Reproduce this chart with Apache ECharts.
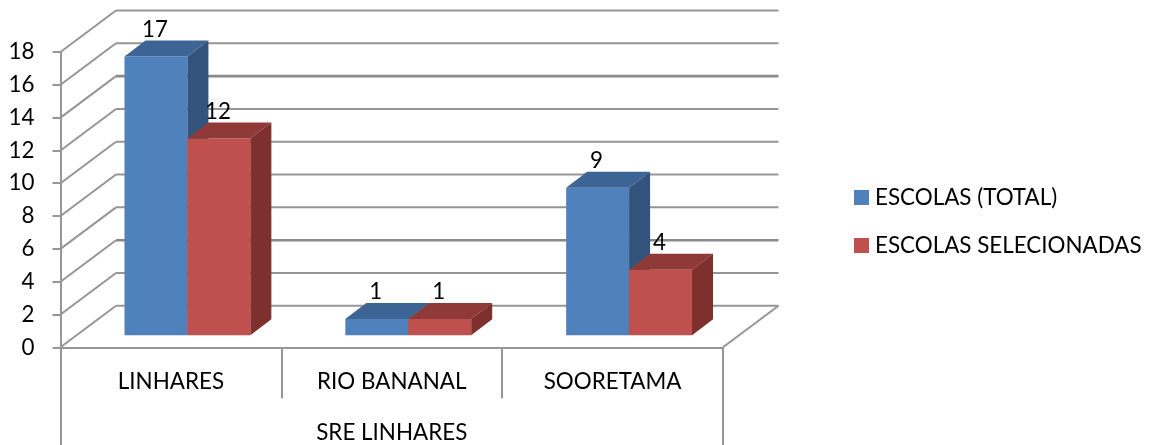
<!DOCTYPE html>
<html><head><meta charset="utf-8">
<style>html,body{margin:0;padding:0;background:#fff}#c{width:1151px;height:445px}</style>
<script src="https://cdn.jsdelivr.net/npm/echarts@6/dist/echarts.min.js"></script>
</head><body><div id="c"></div>
<script>
const categories = ['LINHARES', 'RIO BANANAL', 'SOORETAMA'];
const groupLabels = ['SRE LINHARES'];
const seriesNames = ['ESCOLAS (TOTAL)', 'ESCOLAS SELECIONADAS'];
const totalSchools = [17, 1, 9];
const selectedSchools = [12, 1, 4];
const yTicks = [0, 2, 4, 6, 8, 10, 12, 14, 16, 18];

const FONT = 'Lato';
const FS = 22.4;
const LINE = '#969696';
const wallDX = 55.5, wallDY = 41.5;
const baseDX = 16.5, baseDY = 12;
const depthDX = 21, depthDY = 16;
const barFrac = 0.285;
const heavy = [4, 14];

const chart = echarts.init(document.getElementById('c'), null, {renderer: 'canvas'});

function wallItem(params, api) {
  const v = api.value(1);
  const y = api.coord([0, v])[1];
  const cs = params.coordSys;
  const l = cs.x, r = cs.x + cs.width;
  const st = {stroke: LINE, lineWidth: 2, fill: null};
  const stBack = {stroke: heavy.includes(v) ? '#8a8a8a' : LINE, lineWidth: heavy.includes(v) ? 2.6 : 2, fill: null};
  const kids = [
    {type: 'line', shape: {x1: l, y1: y, x2: l + wallDX, y2: y - wallDY}, style: st},
    {type: 'line', shape: {x1: l + wallDX, y1: y - wallDY, x2: r + wallDX, y2: y - wallDY}, style: stBack}
  ];
  if (v === 0) kids.push({type: 'line', shape: {x1: r, y1: y, x2: r + wallDX, y2: y - wallDY}, style: st});
  return {type: 'group', children: kids};
}

function barItem(which, cFront, cTop, cSide) {
  return function (params, api) {
    const cat = api.value(0), val = api.value(1);
    const c = api.coord([cat, 0]);
    const top = api.coord([cat, val]);
    const w = api.size([1, 0])[0] * barFrac;
    const x0 = c[0] + baseDX + (which === 0 ? -w : 0);
    const x1 = x0 + w;
    const yb = c[1] - baseDY, yt = top[1] - baseDY;
    const poly = (pts, fill) => ({type: 'polygon', shape: {points: pts}, style: {fill: fill, stroke: null}});
    return {type: 'group', children: [
      poly([[x0, yb], [x1, yb], [x1, yt], [x0, yt]], cFront),
      poly([[x0, yt], [x1, yt], [x1 + depthDX, yt - depthDY], [x0 + depthDX, yt - depthDY]], cTop),
      poly([[x1, yb], [x1 + depthDX, yb - depthDY], [x1 + depthDX, yt - depthDY], [x1, yt]], cSide),
      {type: 'text', z2: 100, style: {x: (x0 + x1) / 2 - 1, y: yt - 27, text: String(val), font: FS + 'px ' + FONT, fill: '#000', align: 'center', verticalAlign: 'middle'}}
    ]};
  };
}

chart.setOption({
  animation: false,
  backgroundColor: '#fff',
  grid: {left: 60.5, top: 52, width: 662.5, height: 295.3, containLabel: false},
  legend: {
    orient: 'vertical', left: 849, top: 180.5, itemWidth: 15, itemHeight: 15, itemGap: 24, icon: 'rect',
    data: seriesNames,
    selectedMode: false,
    textStyle: {fontFamily: FONT, fontSize: FS, lineHeight: 24, color: '#000', padding: [0, 0, 0, 1]}
  },
  xAxis: [
    {type: 'category', data: categories, position: 'bottom',
     axisLine: {show: true, lineStyle: {color: LINE, width: 2}},
     axisTick: {show: true, length: 51, lineStyle: {color: LINE, width: 2}},
     axisLabel: {margin: 23, fontFamily: FONT, fontSize: FS, color: '#000'}},
    {type: 'category', data: groupLabels, position: 'bottom',
     axisLine: {show: false},
     axisTick: {show: true, length: 100, lineStyle: {color: LINE, width: 2}},
     axisLabel: {margin: 74, fontFamily: FONT, fontSize: FS, color: '#000'}}
  ],
  yAxis: {type: 'value', min: 0, max: 18, interval: 2,
    axisLine: {show: true, lineStyle: {color: LINE, width: 2}},
    axisTick: {show: true, length: 8, lineStyle: {color: LINE, width: 2}},
    axisLabel: {margin: 26, fontFamily: FONT, fontSize: FS, color: '#000'},
    splitLine: {show: false}},
  series: [
    {type: 'custom', name: 'walls', silent: true, clip: false, z: 1, renderItem: wallItem,
     data: yTicks.map(v => [0, v])},
    {type: 'custom', name: seriesNames[0], clip: false, z: 2, itemStyle: {color: '#4f81bd'},
     renderItem: barItem(0, '#4f81bd', '#3c6494', '#32547c'),
     encode: {x: 0, y: 1}, data: totalSchools.map((v, i) => [i, v])},
    {type: 'custom', name: seriesNames[1], clip: false, z: 3, itemStyle: {color: '#c0504d'},
     renderItem: barItem(1, '#c0504d', '#8f3a38', '#7d302e'),
     encode: {x: 0, y: 1}, data: selectedSchools.map((v, i) => [i, v])}
  ]
});
</script></body></html>
